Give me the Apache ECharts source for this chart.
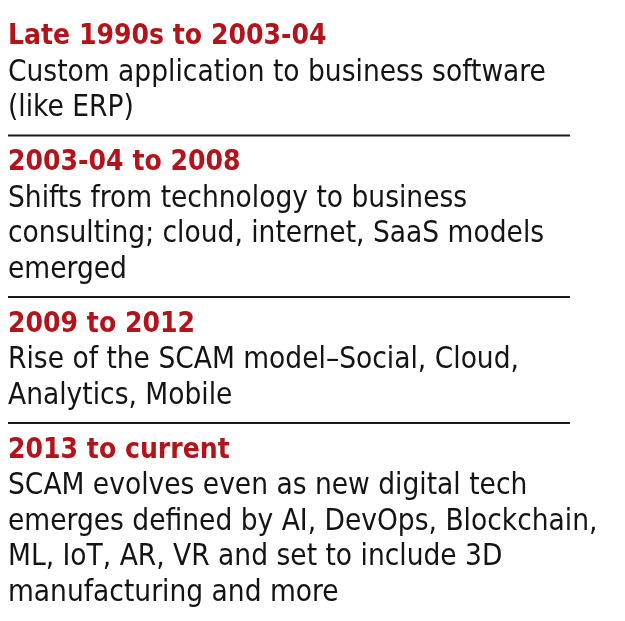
<!DOCTYPE html>
<html>
<head>
<meta charset="utf-8">
<script src="https://cdn.jsdelivr.net/npm/echarts@6/dist/echarts.min.js"></script>
<style>
  html, body { margin: 0; padding: 0; background: #fff; }
  #main { width: 625px; height: 621px; }
</style>
</head>
<body>
<div id="main"></div>
<script>
// timeline periods and the text under each one (line breaks as printed)
var periods = ["Late 1990s to 2003-04", "2003-04 to 2008", "2009 to 2012", "2013 to current"];
var descLines = [
  ["Custom application to business software", "(like ERP)"],
  ["Shifts from technology to business", "consulting; cloud, internet, SaaS models", "emerged"],
  ["Rise of the SCAM model\u2013Social, Cloud,", "Analytics, Mobile"],
  ["SCAM evolves even as new digital tech", "emerges defined by AI, DevOps, Blockchain,", "ML, IoT, AR, VR and set to include 3D", "manufacturing and more"]
];

var fontFam = "'Liberation Sans Narrow', 'DejaVu Sans Condensed', 'Roboto', sans-serif";
var headColor = '#b3131b';
var textColor = '#141414';

var container = document.getElementById('main');
var myChart = echarts.init(container, null, { renderer: 'canvas' });

function buildGraphics() {
  var els = [];
  var left = 8;
  var y = 37;           // centre of the first heading
  var pitch = 35.5;     // body line spacing
  periods.forEach(function (p, i) {
    els.push({
      type: 'text', x: left, y: y,
      style: { text: p, fill: headColor, font: 'bold 28px ' + fontFam, verticalAlign: 'middle' }
    });
    var ly = y + 36;
    descLines[i].forEach(function (line, j) {
      els.push({
        type: 'text', x: left, y: ly + j * pitch,
        style: { text: line, fill: textColor, font: '29.5px ' + fontFam, verticalAlign: 'middle' }
      });
    });
    var last = ly + (descLines[i].length - 1) * pitch;
    if (i < periods.length - 1) {
      var dy = last + 27;
      els.push({
        type: 'line',
        shape: { x1: left, y1: dy, x2: 570, y2: dy },
        style: { stroke: '#1a1a1a', lineWidth: 2 }
      });
      y = dy + 27.5;
    }
  });
  return els;
}

var option = {
  backgroundColor: '#fff',
  animation: false,
  graphic: buildGraphics()
};
myChart.setOption(option, true);
</script>
</body>
</html>
